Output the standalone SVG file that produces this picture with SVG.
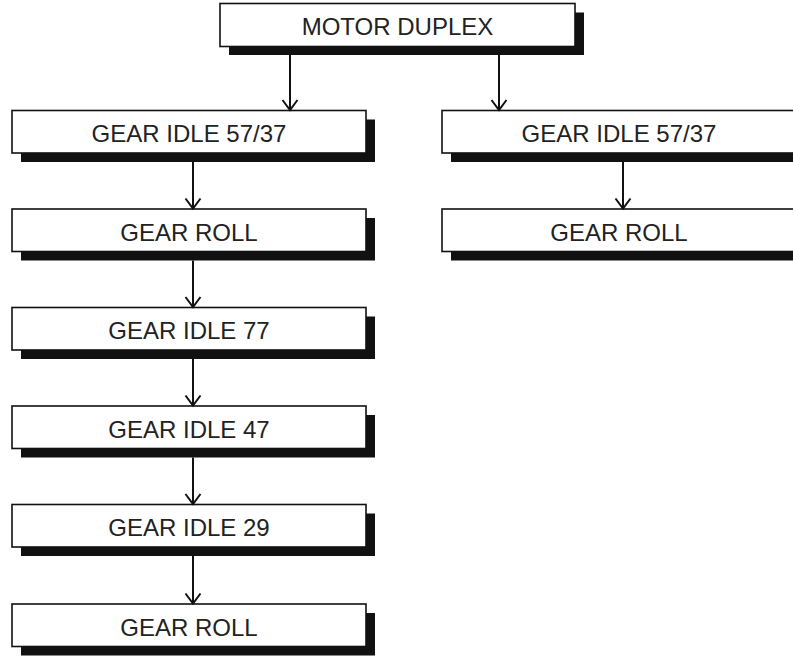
<svg xmlns="http://www.w3.org/2000/svg" width="793" height="656" viewBox="0 0 793 656">
<style>
.sh{fill:#111}
.bx{fill:#fff;stroke:#111;stroke-width:1.6}
.tx{font-family:"Liberation Sans",Arial,sans-serif;font-size:24px;fill:#222;text-anchor:middle}
.ln{stroke:#111;stroke-width:2;fill:none}
</style>
<defs>
<marker id="ah" markerUnits="userSpaceOnUse" markerWidth="20" markerHeight="20" viewBox="-12 -10 14 20" refX="0" refY="0" orient="auto" overflow="visible">
<path d="M-10,-7.5 L0,0 L-10,7.5" fill="none" stroke="#111" stroke-width="2"/>
</marker>
</defs>
<rect width="793" height="656" fill="#fff"/>
<g id="motor-duplex">
<rect class="sh" x="229" y="12.5" width="355" height="42.5"/>
<rect class="bx" x="220" y="3.5" width="355" height="43"/>
<text class="tx" x="397.5" y="35">MOTOR DUPLEX</text>
</g>
<g id="l1">
<rect class="sh" x="21" y="119.5" width="354" height="42.5"/>
<rect class="bx" x="12" y="110.5" width="354" height="42.5"/>
<text class="tx" x="189" y="142">GEAR IDLE 57/37</text>
</g>
<g id="l2">
<rect class="sh" x="21" y="218" width="354" height="42.5"/>
<rect class="bx" x="12" y="209" width="354" height="42.5"/>
<text class="tx" x="189" y="240.5">GEAR ROLL</text>
</g>
<g id="l3">
<rect class="sh" x="21" y="316.5" width="354" height="42.5"/>
<rect class="bx" x="12" y="307.5" width="354" height="42.5"/>
<text class="tx" x="189" y="339">GEAR IDLE 77</text>
</g>
<g id="l4">
<rect class="sh" x="21" y="415" width="354" height="42.5"/>
<rect class="bx" x="12" y="406" width="354" height="42.5"/>
<text class="tx" x="189" y="437.5">GEAR IDLE 47</text>
</g>
<g id="l5">
<rect class="sh" x="21" y="513.5" width="354" height="42.5"/>
<rect class="bx" x="12" y="504.5" width="354" height="42.5"/>
<text class="tx" x="189" y="536">GEAR IDLE 29</text>
</g>
<g id="l6">
<rect class="sh" x="21" y="613" width="354" height="42.5"/>
<rect class="bx" x="12" y="604" width="354" height="42.5"/>
<text class="tx" x="189" y="635.5">GEAR ROLL</text>
</g>
<g id="r1">
<rect class="sh" x="451" y="119.5" width="354" height="42.5"/>
<rect class="bx" x="442" y="110.5" width="354" height="42.5"/>
<text class="tx" x="619" y="142">GEAR IDLE 57/37</text>
</g>
<g id="r2">
<rect class="sh" x="451" y="218" width="354" height="42.5"/>
<rect class="bx" x="442" y="209" width="354" height="42.5"/>
<text class="tx" x="619" y="240.5">GEAR ROLL</text>
</g>
<g id="connectors">
<line class="ln" x1="290" y1="55" x2="290" y2="110" marker-end="url(#ah)"/>
<line class="ln" x1="499" y1="55" x2="499" y2="110" marker-end="url(#ah)"/>
<line class="ln" x1="193" y1="162" x2="193" y2="208.5" marker-end="url(#ah)"/>
<line class="ln" x1="193" y1="260.5" x2="193" y2="307" marker-end="url(#ah)"/>
<line class="ln" x1="193" y1="359" x2="193" y2="405.5" marker-end="url(#ah)"/>
<line class="ln" x1="193" y1="457.5" x2="193" y2="504" marker-end="url(#ah)"/>
<line class="ln" x1="193" y1="556" x2="193" y2="603.5" marker-end="url(#ah)"/>
<line class="ln" x1="623" y1="162" x2="623" y2="208.5" marker-end="url(#ah)"/>
</g>
</svg>
